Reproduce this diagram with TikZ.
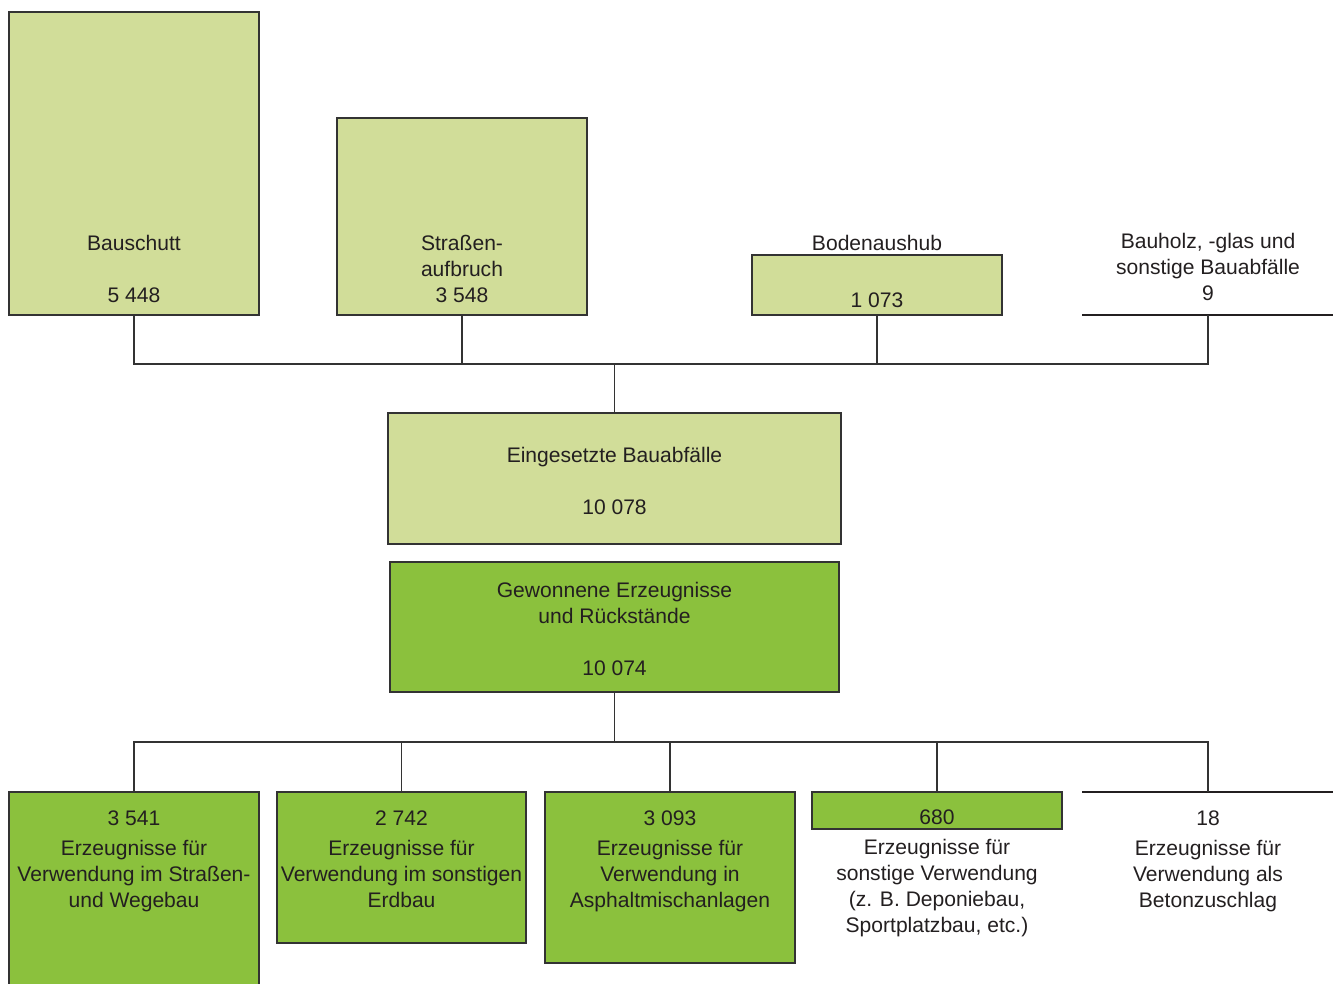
\documentclass[tikz,border=0pt]{standalone}
\usepackage{fontspec}
\setmainfont{Liberation Sans}
\definecolor{lgreen}{HTML}{D1DD99}
\definecolor{dgreen}{HTML}{8BC13D}
\definecolor{ink}{HTML}{231F20}
\definecolor{edgecol}{HTML}{333333}
\begin{document}
\begin{tikzpicture}[x=0.75pt,y=-0.75pt,
  box/.style={draw=edgecol, line width=1.1pt, inner sep=0pt, minimum width=187.5pt},
  lbox/.style={box, fill=lgreen},
  dbox/.style={box, fill=dgreen},
  lbl/.style={anchor=base, align=center, inner sep=0pt, text=ink, font=\fontsize{15.8}{19.5}\selectfont},
  conn/.style={draw=edgecol, line width=1pt},
  rule/.style={draw=ink, line width=1.5pt}]
\useasboundingbox (0,0) rectangle (1333,983);
% top boxes
\node[lbox, minimum height=227.25pt] (bau) at (134,163.5) {};
\node[lbox, minimum height=147.75pt] (str) at (462,216.5) {};
\node[lbox, minimum height=45pt] (bod) at (877,285) {};
\coordinate (bhL) at (1082,315);
\coordinate (bhR) at (1333,315);
\coordinate (bh) at (1208,315);
\draw[rule] (bhL) -- (bhR);
% middle boxes
\node[lbox, minimum width=339.75pt, minimum height=98.25pt] (ein) at (614.5,478.5) {};
\node[dbox, minimum width=336.75pt, minimum height=97.5pt] (gew) at (614.5,627) {};
% bottom boxes
\node[dbox, minimum height=156pt] (o1) at (134,896) {};
\node[dbox, minimum width=186.75pt, minimum height=113.25pt] (o2) at (401.5,867.5) {};
\node[dbox, minimum height=128.25pt] (o3) at (670,877.5) {};
\node[dbox, minimum height=27.75pt] (o4) at (937,810.5) {};
\coordinate (o5L) at (1082,792);
\coordinate (o5R) at (1333,792);
\coordinate (o5) at (1208,792);
\draw[rule] (o5L) -- (o5R);
% connectors top
\coordinate (hubT) at (614.5,364);
\draw[conn] (bau.south) -- (bau.south |- hubT) -- (bh |- hubT) -- (bh);
\draw[conn] (str.south) -- (str.south |- hubT);
\draw[conn] (bod.south) -- (bod.south |- hubT);
\draw[conn] (hubT) -- (ein.north);
% connectors bottom
\coordinate (hubB) at (614.5,742);
\draw[conn] (gew.south) -- (hubB);
\draw[conn] (o1.north) -- (o1.north |- hubB) -- (o5 |- hubB) -- (o5);
\draw[conn] (o2.north) -- (o2.north |- hubB);
\draw[conn] (o3.north) -- (o3.north |- hubB);
\draw[conn] (o4.north) -- (o4.north |- hubB);
% labels (anchor = baseline of last line)
\node[lbl] (tbau) at (134,302) {Bauschutt\\[19.5pt]5 448};
\node[lbl] (tstr) at (462,302) {Straßen-\\aufbruch\\3 548};
\node[lbl] (tbod) at (877,250) {Bodenaushub};
\node[lbl] (nbod) at (877,307) {1 073};
\node[lbl] (tbh) at (1208,300) {Bauholz, -glas und\\sonstige Bauabfälle\\9};
\node[lbl] (tein) at (614.5,514) {Eingesetzte Bauabfälle\\[19.5pt]10 078};
\node[lbl] (tgew) at (614.5,675) {Gewonnene Erzeugnisse\\und Rückstände\\[19.5pt]10 074};
\node[lbl] (to1) at (134,907) {3 541\\[3pt]Erzeugnisse für\\Verwendung im Straßen-\\und Wegebau};
\node[lbl] (to2) at (401.5,907) {2 742\\[3pt]Erzeugnisse für\\Verwendung im sonstigen\\Erdbau};
\node[lbl] (to3) at (670,907) {3 093\\[3pt]Erzeugnisse für\\Verwendung in\\Asphaltmischanlagen};
\node[lbl] (to4) at (937,932) {680\\[3pt]Erzeugnisse für\\sonstige Verwendung\\(z. B. Deponiebau,\\Sportplatzbau, etc.)};
\node[lbl] (to5) at (1208,907) {18\\[3pt]Erzeugnisse für\\Verwendung als\\Betonzuschlag};
\end{tikzpicture}
\end{document}
